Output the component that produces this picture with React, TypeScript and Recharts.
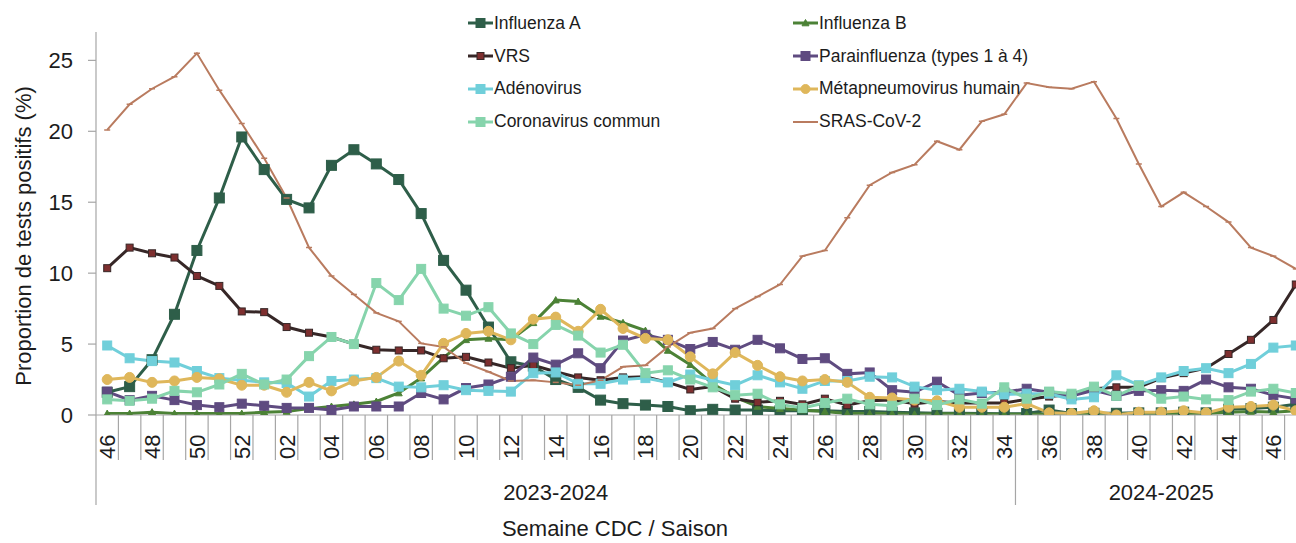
import React from 'react';
import { LineChart, Line, XAxis, YAxis } from 'recharts';

// CDC weeks, one list per season
const weeks2324 = ['46', '47', '48', '49', '50', '51', '52', '01', '02', '03', '04', '05', '06', '07', '08', '09', '10', '11', '12', '13', '14', '15', '16', '17', '18', '19', '20', '21', '22', '23', '24', '25', '26', '27', '28', '29', '30', '31', '32', '33', '34'];
const weeks2425 = ['35', '36', '37', '38', '39', '40', '41', '42', '43', '44', '45', '46', '47'];
const seasons = ['2023-2024', '2024-2025'];

// % positive tests
const fluA = [1.6, 2.0, 3.9, 7.1, 11.6, 15.3, 19.6, 17.3, 15.2, 14.6, 17.6, 18.7, 17.7, 16.6, 14.2, 10.9, 8.8, 6.2, 3.75, 3.45, 2.5, 1.95, 1.05, 0.8, 0.7, 0.6, 0.3, 0.4, 0.35, 0.35, 0.3, 0.3, 0.3, 0.25, 0.25, 0.2, 0.15, 0.12, 0.12, 0.1, 0.08, 0.1, 0.35, 0.1, 0.12, 0.12, 0.15, 0.15, 0.2, 0.15, 0.4, 0.45, 0.55, 0.75];
const fluB = [0.1, 0.1, 0.2, 0.1, 0.1, 0.1, 0.1, 0.2, 0.25, 0.45, 0.6, 0.75, 0.95, 1.55, 2.6, 4.05, 5.3, 5.4, 5.3, 6.5, 8.1, 8.0, 6.95, 6.5, 5.95, 4.55, 3.55, 2.2, 1.25, 0.6, 0.45, 0.35, 0.25, 0.1, 0.1, 0.1, 0.05, 0.08, 0.08, 0.05, 0.05, 0.05, 0.05, 0.05, 0.05, 0.05, 0.08, 0.1, 0.1, 0.1, 0.2, 0.25, 0.2, 0.3];
const vrs = [10.35, 11.8, 11.4, 11.1, 9.8, 9.1, 7.3, 7.25, 6.2, 5.8, 5.5, 5.0, 4.6, 4.55, 4.55, 4.0, 4.1, 3.7, 3.3, 3.5, 3.05, 2.65, 2.45, 2.65, 2.7, 2.3, 1.8, 2.0, 1.15, 0.9, 1.0, 0.75, 1.15, 0.7, 1.0, 1.05, 0.8, 0.95, 0.85, 0.85, 0.85, 1.1, 1.3, 1.45, 1.85, 1.95, 1.95, 2.6, 2.95, 3.3, 4.3, 5.3, 6.7, 9.2];
const para = [1.65, 1.05, 1.35, 1.05, 0.7, 0.55, 0.8, 0.65, 0.5, 0.5, 0.35, 0.6, 0.6, 0.6, 1.55, 1.1, 1.9, 2.15, 2.7, 4.05, 3.55, 4.35, 3.3, 5.25, 5.65, 5.3, 4.65, 5.15, 4.6, 5.3, 4.7, 3.95, 4.0, 2.9, 3.0, 1.75, 1.6, 2.35, 1.4, 1.55, 1.6, 1.85, 1.6, 1.35, 1.75, 1.35, 1.7, 1.75, 1.7, 2.5, 1.95, 1.85, 1.4, 1.15];
const adeno = [4.9, 4.0, 3.8, 3.7, 3.1, 2.6, 2.45, 2.3, 2.25, 1.3, 2.4, 2.5, 2.6, 2.0, 1.95, 2.1, 1.75, 1.7, 1.65, 2.95, 3.0, 2.2, 2.2, 2.5, 2.6, 2.3, 2.85, 2.45, 2.1, 2.8, 2.3, 1.85, 2.4, 2.4, 2.7, 2.65, 2.0, 1.75, 1.85, 1.65, 1.45, 1.5, 1.5, 1.1, 1.25, 2.8, 2.1, 2.65, 3.1, 3.3, 2.95, 3.6, 4.75, 4.9];
const meta = [2.5, 2.65, 2.3, 2.4, 2.65, 2.55, 2.1, 2.1, 1.6, 2.3, 1.7, 2.4, 2.65, 3.8, 2.8, 5.05, 5.75, 5.9, 5.3, 6.75, 6.9, 5.9, 7.45, 6.1, 5.4, 5.3, 4.1, 2.9, 4.4, 3.5, 2.7, 2.4, 2.5, 2.3, 1.25, 1.2, 1.05, 1.0, 0.55, 0.55, 0.55, 0.8, 0.15, 0.1, 0.3, 0.0, 0.2, 0.2, 0.3, 0.15, 0.55, 0.6, 0.7, 0.3];
const corona = [1.1, 1.0, 1.15, 1.7, 1.6, 2.15, 2.9, 2.15, 2.5, 4.15, 5.5, 5.0, 9.3, 8.1, 10.3, 7.5, 7.0, 7.6, 5.75, 5.0, 6.35, 5.6, 4.4, 4.95, 2.95, 3.15, 2.5, 1.95, 1.4, 1.5, 0.75, 0.5, 0.85, 1.15, 0.75, 0.65, 1.15, 0.7, 1.1, 0.8, 1.95, 1.15, 1.65, 1.5, 2.0, 1.35, 2.05, 1.15, 1.3, 1.1, 1.05, 1.65, 1.85, 1.55];
const sras = [20.1, 21.9, 23.0, 23.85, 25.5, 22.9, 20.55, 18.1, 15.3, 11.8, 9.8, 8.5, 7.2, 6.6, 5.05, 4.8, 3.65, 3.05, 2.4, 2.45, 2.3, 2.1, 2.45, 3.4, 3.5, 4.8, 5.8, 6.1, 7.5, 8.35, 9.2, 11.2, 11.6, 13.9, 16.2, 17.1, 17.65, 19.3, 18.7, 20.7, 21.2, 23.4, 23.1, 23.0, 23.5, 20.9, 17.7, 14.7, 15.7, 14.7, 13.6, 11.8, 11.2, 10.3];

const yTicks = [0, 5, 10, 15, 20, 25];

const allWeeks = [...weeks2324, ...weeks2425];
const data = allWeeks.map((w, i) => ({
  id: `${i < weeks2324.length ? seasons[0] : seasons[1]}|${w}`,
  fluA: fluA[i],
  fluB: fluB[i],
  vrs: vrs[i],
  para: para[i],
  adeno: adeno[i],
  meta: meta[i],
  corona: corona[i],
  sras: sras[i],
}));

type Kind = 'square' | 'triangle' | 'circle' | 'dash' | 'none';
interface SeriesDef { key: string; name: string; color: string; width: number; marker: Kind; size: number; markerFill?: string }

const SERIES: SeriesDef[] = [
  { key: 'fluA', name: 'Influenza A', color: '#2E5E49', width: 3, marker: 'square', size: 10 },
  { key: 'fluB', name: 'Influenza B', color: '#4C8236', width: 3, marker: 'triangle', size: 7 },
  { key: 'vrs', name: 'VRS', color: '#362727', width: 3, marker: 'square', size: 7, markerFill: '#7E2F2F' },
  { key: 'para', name: 'Parainfluenza (types 1 à 4)', color: '#5F4B80', width: 3, marker: 'square', size: 9 },
  { key: 'adeno', name: 'Adénovirus', color: '#70CFDA', width: 3, marker: 'square', size: 9 },
  { key: 'meta', name: 'Métapneumovirus humain', color: '#DFB75B', width: 3, marker: 'circle', size: 10 },
  { key: 'corona', name: 'Coronavirus commun', color: '#86D4AC', width: 3, marker: 'square', size: 9 },
  { key: 'sras', name: 'SRAS-CoV-2', color: '#B97B5F', width: 2, marker: 'dash', size: 6 },
];

// layout
const FONT = '"Liberation Sans", Arial, sans-serif';
const TEXT = '#1c1c1c';
const AXIS = '#A6A6A6';
const CHART_W = 1320;
const CHART_H = 543;
const PLOT_LEFT = 96;
const PLOT_TOP = 32;
const PLOT_BOTTOM = 415;
const RIGHT_M = 13;
const PAD = 11.2;
const STEP = (CHART_W - RIGHT_M - PLOT_LEFT - 2 * PAD) / (allWeeks.length - 1);

const Marker = ({ kind, x, y, size, fill, stroke }: { kind: Kind; x: number; y: number; size: number; fill: string; stroke: string }) => {
  const h = size / 2;
  if (kind === 'square') return <rect x={x - h} y={y - h} width={size} height={size} fill={fill} stroke={stroke} strokeWidth={1} />;
  if (kind === 'circle') return <circle cx={x} cy={y} r={h} fill={fill} stroke={stroke} strokeWidth={1} />;
  if (kind === 'triangle') return <polygon points={`${x},${y - h} ${x + h},${y + h * 0.8} ${x - h},${y + h * 0.8}`} fill={fill} stroke={stroke} strokeWidth={1} />;
  if (kind === 'dash') return <line x1={x - h} x2={x + h} y1={y} y2={y} stroke={stroke} strokeWidth={1.5} />;
  return null;
};

const makeDot = (s: SeriesDef) => (p: any) => {
  const { cx, cy, index } = p;
  const k = `${s.key}-dot-${index}`;
  if (cx == null || cy == null) return <g key={k} />;
  return (
    <g key={k}>
      <Marker kind={s.marker} x={cx} y={cy} size={s.size} fill={s.markerFill ?? s.color} stroke={s.color} />
    </g>
  );
};

const Decor = () => {
  const sepX = PLOT_LEFT + PAD + (weeks2324.length - 0.5) * STEP;
  const rightX = CHART_W - RIGHT_M;
  return (
    <g fontFamily={FONT} fill={TEXT}>
      <line x1={PLOT_LEFT} x2={PLOT_LEFT} y1={PLOT_BOTTOM} y2={505} stroke={AXIS} strokeWidth={1.2} />
      <line x1={sepX} x2={sepX} y1={PLOT_BOTTOM} y2={505} stroke={AXIS} strokeWidth={1.2} />
      <text x={(PLOT_LEFT + sepX) / 2} y={500} textAnchor="middle" fontSize={22}>{seasons[0]}</text>
      <text x={(sepX + rightX) / 2} y={500} textAnchor="middle" fontSize={22}>{seasons[1]}</text>
      <text x={615} y={536} textAnchor="middle" fontSize={22}>Semaine CDC / Saison</text>
      <text x={31} y={236} textAnchor="middle" fontSize={22} transform="rotate(-90 31 236)">Proportion de tests positifs (%)</text>
    </g>
  );
};

const XTick = (props: any) => {
  const { x } = props;
  const idx: number = props.index ?? props.payload?.index ?? 0;
  const half = STEP / 2;
  const tx = x + 8;
  return (
    <g>
      {idx === 0 && <Decor />}
      {idx !== weeks2324.length - 1 && (
        <line x1={x + half} x2={x + half} y1={PLOT_BOTTOM} y2={460} stroke={AXIS} strokeWidth={1.2} />
      )}
      {idx % 2 === 0 && (
        <text x={tx} y={459} transform={`rotate(-90 ${tx} 459)`} textAnchor="start" fontSize={22} fontFamily={FONT} fill={TEXT}>
          {allWeeks[idx]}
        </text>
      )}
    </g>
  );
};

const col1 = ['fluA', 'vrs', 'adeno', 'corona'];
const col2 = ['fluB', 'para', 'meta', 'sras'];

const LegendItem = ({ s }: { s: SeriesDef }) => (
  <div style={{ display: 'flex', alignItems: 'center', height: 32.8 }}>
    <svg width={25} height={14} style={{ marginRight: 1 }}>
      <line x1={0} x2={25} y1={7} y2={7} stroke={s.color} strokeWidth={s.width} />
      {s.marker !== 'dash' && (
        <Marker kind={s.marker} x={12.5} y={7} size={Math.min(s.size, 9)} fill={s.markerFill ?? s.color} stroke={s.color} />
      )}
    </svg>
    <span style={{ fontSize: 17.5, color: TEXT, whiteSpace: 'nowrap' }}>{s.name}</span>
  </div>
);

const byKey = (k: string) => SERIES.find(s => s.key === k)!;

const App: React.FC = () => {
  return (
    <div style={{ position: 'fixed', left: 0, top: 0, width: 1296, height: 543, overflow: 'hidden', background: '#fff', fontFamily: FONT }}>
      <LineChart width={CHART_W} height={CHART_H} data={data} margin={{ top: PLOT_TOP, right: RIGHT_M, left: 0, bottom: 0 }}>
        <XAxis
          dataKey="id"
          type="category"
          interval={0}
          height={CHART_H - PLOT_BOTTOM}
          padding={{ left: PAD, right: PAD }}
          axisLine={{ stroke: AXIS, strokeWidth: 1.2 }}
          tickLine={false}
          tick={<XTick />}
        />
        <YAxis
          width={PLOT_LEFT}
          domain={[0, 27]}
          ticks={yTicks}
          allowDataOverflow
          axisLine={{ stroke: AXIS, strokeWidth: 1.2 }}
          tickLine={{ stroke: AXIS, strokeWidth: 1.2 }}
          tickSize={8}
          tickMargin={15}
          tick={{ fill: TEXT, fontSize: 22, fontFamily: FONT }}
        />
        {SERIES.map(s => (
          <Line
            key={s.key}
            dataKey={s.key}
            name={s.name}
            type="linear"
            stroke={s.color}
            strokeWidth={s.width}
            dot={makeDot(s)}
            activeDot={false}
            isAnimationActive={false}
          />
        ))}
      </LineChart>
      <div style={{ position: 'absolute', left: 468, top: 7 }}>
        {col1.map(k => <LegendItem key={k} s={byKey(k)} />)}
      </div>
      <div style={{ position: 'absolute', left: 793, top: 7 }}>
        {col2.map(k => <LegendItem key={k} s={byKey(k)} />)}
      </div>
    </div>
  );
};

export default App;
